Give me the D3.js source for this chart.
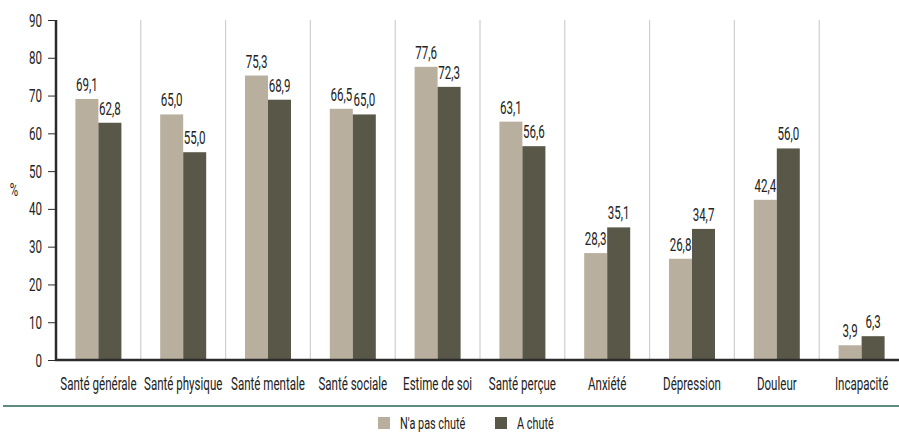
<!DOCTYPE html>
<html><head><meta charset="utf-8">
<script src="https://cdn.jsdelivr.net/npm/d3@7/dist/d3.min.js"></script>
<style>
body{margin:0;background:#fff;}
text{font-family:Roboto,"Liberation Sans",sans-serif;fill:#222;}
</style></head>
<body><svg id="c" width="899" height="434"></svg>
<script>
const categories = ["Santé générale","Santé physique","Santé mentale","Santé sociale","Estime de soi","Santé perçue","Anxiété","Dépression","Douleur","Incapacité"];
const seriesNames = ["N'a pas chuté","A chuté"];
const nonFallen = [69.1,65.0,75.3,66.5,77.6,63.1,28.3,26.8,42.4,3.9];
const fallen = [62.8,55.0,68.9,65.0,72.3,56.6,35.1,34.7,56.0,6.3];
const yTicks = [0,10,20,30,40,50,60,70,80,90];
const colors = ["#b8af9f","#595748"];

const SX = 0.66, FS = 17.5;
const svg = d3.select("#c");
const x0 = 56, x1 = 904, yTop = 20, yBot = 360;
const x = d3.scaleBand().domain(categories).range([x0, x1]);
const y = d3.scaleLinear().domain([0,90]).range([yBot, yTop]);
const fmt = v => v.toFixed(1).replace(".", ",");
const tr = (px, py) => `translate(${px},${py}) scale(${SX},1)`;

// separators
svg.append("g").selectAll("line").data(categories.slice(1)).join("line")
  .attr("x1", d => x(d)).attr("x2", d => x(d))
  .attr("y1", yTop).attr("y2", yBot)
  .attr("stroke", "#cfcfcf").attr("stroke-width", 1.2);

// bars
const barW = 23;
const series = [nonFallen, fallen];
series.forEach((vals, si) => {
  const g = svg.append("g");
  g.selectAll("rect").data(categories).join("rect")
    .attr("x", (d) => x(d) + x.bandwidth()/2 - barW + si*barW)
    .attr("y", (d,i) => y(vals[i]))
    .attr("width", barW)
    .attr("height", (d,i) => yBot - y(vals[i]))
    .attr("fill", colors[si]);
  g.selectAll("text").data(categories).join("text")
    .attr("transform", (d,i) => tr(x(d) + x.bandwidth()/2 - barW/2 + si*barW, y(vals[i]) - 8))
    .attr("text-anchor", "middle")
    .attr("font-size", FS)
    .text((d,i) => fmt(vals[i]));
});

// y axis
const ya = svg.append("g").attr("transform", `translate(${x0},0)`)
  .call(d3.axisLeft(y).tickValues(yTicks).tickSize(8).tickPadding(6).tickFormat(d3.format("d")));
ya.select(".domain").attr("stroke", "#2b2b2b").attr("stroke-width", 2.5).attr("d", `M0,${yTop}V${yBot}`);
ya.selectAll(".tick line").attr("stroke", "#2b2b2b").attr("stroke-width", 1);
ya.selectAll(".tick text").attr("font-size", FS).attr("fill", "#222")
  .attr("font-family", null)
  .attr("x", null).attr("dy", null)
  .attr("transform", tr(-14, 6));

// baseline
svg.append("line").attr("x1", x0 - 1).attr("x2", 899).attr("y1", yBot).attr("y2", yBot)
  .attr("stroke", "#2b2b2b").attr("stroke-width", 2.5);

// x labels
svg.append("g").selectAll("text").data(categories).join("text")
  .attr("transform", d => tr(x(d) + x.bandwidth()/2, 390))
  .attr("text-anchor", "middle").attr("font-size", FS).text(d => d);

// % label
svg.append("text").attr("transform", tr(14, 196)).attr("text-anchor", "middle").attr("font-size", FS).text("%");

// bottom rule
svg.append("line").attr("x1", 3).attr("x2", 899).attr("y1", 406).attr("y2", 406)
  .attr("stroke", "#5f8a80").attr("stroke-width", 2);

// legend
const legX = [378, 495];
const lg = svg.append("g");
seriesNames.forEach((n, i) => {
  lg.append("rect").attr("x", legX[i]).attr("y", 417).attr("width", 12).attr("height", 12).attr("fill", colors[i]);
  lg.append("text").attr("transform", tr(legX[i] + 22, 429)).attr("font-size", FS - 1).text(n);
});
</script></body></html>
